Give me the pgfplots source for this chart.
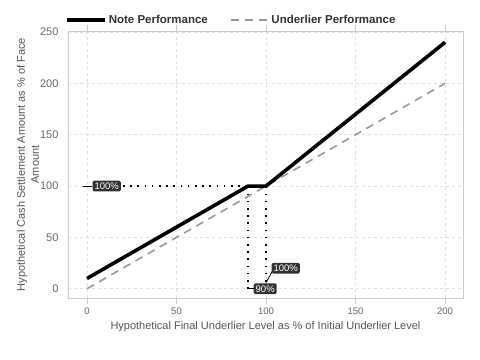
\documentclass[border=0pt]{standalone}
\usepackage{pgfplots}
\pgfplotsset{compat=1.18}
\usepackage{fontspec}
\setmainfont{Liberation Sans}
\definecolor{gridc}{HTML}{DDE1E5}
\definecolor{axc}{HTML}{C8CDD3}
\definecolor{tickc}{HTML}{666666}
\definecolor{labc}{HTML}{555555}
\definecolor{boxc}{HTML}{333333}
\definecolor{undc}{HTML}{999999}
\begin{document}
\begin{tikzpicture}
\begin{axis}[
  width=395pt, height=267pt, scale only axis,
  xmin=-10.6, xmax=210, ymin=-9, ymax=251,
  xtick={0,50,100,150,200}, ytick={0,50,100,150,200,250},
  /pgf/number format/assume math mode=true,
  axis line style={axc, line width=0.8pt},
  grid=major, major grid style={dashed, gridc, line width=0.6pt},
  tick align=outside,
  x tick style={axc, line width=0.8pt}, major tick length=6pt,
  y tick style={draw=none},
  xticklabel style={font=\fontsize{9.5}{10}\selectfont, text=tickc},
  yticklabel style={font=\fontsize{11}{12}\selectfont, text=tickc},
  xlabel={Hypothetical Final Underlier Level as \% of Initial Underlier Level},
  ylabel={Hypothetical Cash Settlement Amount as \% of Face\\[1pt]Amount},
  xlabel style={at={(axis description cs:0.5,0)}, anchor=center, yshift=-29pt, font=\fontsize{11}{12}\selectfont, text=labc},
  ylabel style={at={(axis description cs:0,0.5)}, anchor=center, yshift=40pt, align=center, font=\fontsize{11}{13}\selectfont, text=labc},
  legend columns=2,
  legend style={at={(axis description cs:0,1)}, anchor=west, xshift=-3pt, yshift=11pt, draw=none, fill=none, inner sep=0pt,
    font=\fontsize{11.5}{12}\selectfont\bfseries, text=boxc,
    /tikz/every even column/.append style={column sep=20pt}},
  legend image code/.code={\draw[#1] (0pt,0pt) -- (38pt,0pt);},
  clip=false,
]
% dotted guide lines
\addplot[black, line width=1.6pt, dash pattern=on 1.6pt off 5.6pt, forget plot] coordinates {(8,100) (100,100)};
\addplot[black, line width=1.6pt, dash pattern=on 1.6pt off 5.6pt, forget plot] coordinates {(90,0) (90,100)};
\addplot[black, line width=1.6pt, dash pattern=on 1.6pt off 5.6pt, forget plot] coordinates {(100,0) (100,100)};
% series
\addplot[undc, line width=1.6pt, dash pattern=on 8pt off 6pt, forget plot] coordinates {(0,0) (200,200)};
\addplot[black, line width=3.6pt] coordinates {(0,10) (90,100) (100,100) (200,240)};
\addlegendentry{Note Performance}
\addlegendimage{undc, line width=1.6pt, dash pattern=on 8pt off 6pt}
\addlegendentry{Underlier Performance}
% annotation leaders and labels
\draw[black, line width=0.8pt] (axis cs:-2,100) -- (axis cs:3,100);
\draw[black, line width=0.8pt] (axis cs:90,0) -- (axis cs:93,0);
\draw[black, line width=0.8pt] (axis cs:100,6) -- (axis cs:103.5,17);
\tikzset{lab/.style={fill=boxc, text=white, rounded corners=1.5pt, inner xsep=2pt, inner ysep=2pt, anchor=west, font=\fontsize{9.5}{10}\selectfont}}
\node[lab] at (axis cs:3,100) {100\%};
\node[lab] at (axis cs:93,0) {90\%};
\node[lab] at (axis cs:103,20) {100\%};
\end{axis}
\pgfresetboundingbox
\path[use as bounding box] ([shift={(-68pt,-62pt)}]current axis.south west) rectangle ([shift={(17pt,31pt)}]current axis.north east);
\end{tikzpicture}
\end{document}
